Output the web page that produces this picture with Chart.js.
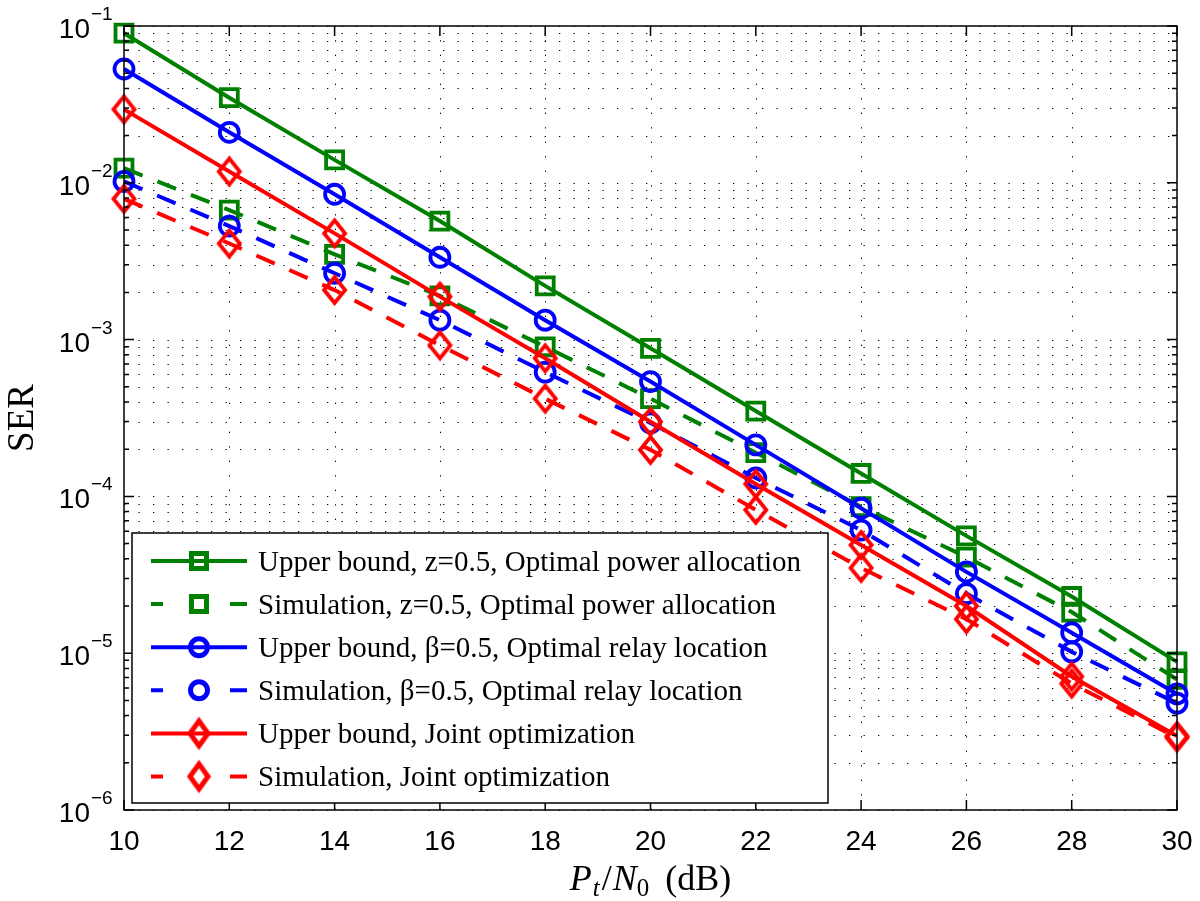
<!DOCTYPE html>
<html>
<head>
<meta charset="utf-8">
<script src="https://cdn.jsdelivr.net/npm/chart.js@4.4.0/dist/chart.umd.min.js"></script>
<style>
  html, body { margin: 0; padding: 0; background: #fff; }
  #wrap { width: 1200px; height: 901px; position: relative; }
</style>
</head>
<body>
<div id="wrap"><canvas id="chart"></canvas></div>
<script>
// P_t/N_0 in dB
const snrDb = [10, 12, 14, 16, 18, 20, 22, 24, 26, 28, 30];

// SER values
const upperZ     = [0.090, 0.0349, 0.0140, 0.0057, 0.0022, 8.8e-4, 3.5e-4, 1.4e-4, 5.6e-5, 2.3e-5, 8.8e-6];
const simZ       = [0.0124, 0.0067, 0.0035, 0.0019, 9.0e-4, 4.2e-4, 1.9e-4, 8.6e-5, 4.1e-5, 1.83e-5, 6.8e-6];
const upperBeta  = [0.0532, 0.021, 0.00845, 0.00335, 0.00133, 5.4e-4, 2.13e-4, 8.4e-5, 3.3e-5, 1.35e-5, 5.5e-6];
const simBeta    = [0.0102, 0.0053, 0.00265, 0.00133, 6.2e-4, 2.94e-4, 1.31e-4, 6.1e-5, 2.4e-5, 1.02e-5, 4.8e-6];
const upperJoint = [0.0294, 0.0118, 0.00476, 0.00188, 7.6e-4, 2.99e-4, 1.2e-4, 4.9e-5, 2.0e-5, 7.1e-6, 2.96e-6];
const simJoint   = [0.0079, 0.0041, 0.00207, 9.2e-4, 4.2e-4, 1.98e-4, 8.2e-5, 3.5e-5, 1.65e-5, 6.4e-6, 2.9e-6];

const seriesLabels = [
    'Upper bound, z=0.5, Optimal power allocation',
    'Simulation, z=0.5, Optimal power allocation',
    'Upper bound, \u03b2=0.5, Optimal relay location',
    'Simulation, \u03b2=0.5, Optimal relay location',
    'Upper bound, Joint optimization',
    'Simulation, Joint optimization'
];

const xTicks = [10, 12, 14, 16, 18, 20, 22, 24, 26, 28, 30];
const yExponents = [-6, -5, -4, -3, -2, -1];

const GREEN = '#008000';
const BLUE = '#0000ff';
const RED = '#ff0000';
const DASH = [20, 16];

// MATLAB style diamond (taller than wide)
function diamondMarker(color, hw, hh, lw) {
    const c = document.createElement('canvas');
    c.width = Math.ceil(2 * hw + 3 * lw);
    c.height = Math.ceil(2 * hh + 3 * lw);
    const g = c.getContext('2d');
    const cx = c.width / 2, cy = c.height / 2;
    g.strokeStyle = color;
    g.lineWidth = lw;
    g.beginPath();
    g.moveTo(cx, cy - hh);
    g.lineTo(cx + hw, cy);
    g.lineTo(cx, cy + hh);
    g.lineTo(cx - hw, cy);
    g.closePath();
    g.stroke();
    return c;
}

function series(label, data, color, style, radius, dashed) {
    return {
        label: label,
        data: data,
        borderColor: color,
        borderWidth: 4,
        borderDash: dashed ? DASH : [],
        pointStyle: style,
        pointRadius: radius,
        pointBorderWidth: 3.8,
        pointBorderColor: color,
        pointBackgroundColor: 'rgba(0,0,0,0)',
        fill: false,
        tension: 0,
        clip: false
    };
}

const redDiamond = diamondMarker(RED, 10.5, 13, 3.8);
const legendDiamond = diamondMarker(RED, 9, 12.5, 5);
const datasets = [
    series(seriesLabels[0], upperZ, GREEN, 'rect', 12, false),
    series(seriesLabels[1], simZ, GREEN, 'rect', 12, true),
    series(seriesLabels[2], upperBeta, BLUE, 'circle', 9.5, false),
    series(seriesLabels[3], simBeta, BLUE, 'circle', 9.5, true),
    series(seriesLabels[4], upperJoint, RED, redDiamond, 12, false),
    series(seriesLabels[5], simJoint, RED, redDiamond, 12, true)
];
// later series drawn on top, like MATLAB
datasets.forEach((d, i) => { d.order = datasets.length - 1 - i; });

// grid positions on the log axis: 1..9 x 10^k
const yGrid = [];
yExponents.forEach(e => {
    if (e === -1) { yGrid.push(Math.pow(10, e)); return; }
    for (let m = 1; m <= 9; m++) yGrid.push(m * Math.pow(10, e));
});

// legend marker: a bit smaller and heavier than in the plot
function drawLegendMarker(ctx, ds, x, y) {
    const st = ds.pointStyle;
    if (typeof st === 'object') {
        ctx.drawImage(legendDiamond, x - legendDiamond.width / 2, y - legendDiamond.height / 2);
        return;
    }
    ctx.save();
    ctx.strokeStyle = ds.borderColor;
    ctx.lineWidth = 5;
    ctx.setLineDash([]);
    ctx.beginPath();
    if (st === 'rect') {
        ctx.rect(x - 7.5, y - 7.5, 15, 15);
    } else {
        ctx.arc(x, y, 8.5, 0, Math.PI * 2);
    }
    ctx.stroke();
    ctx.restore();
}

const matlabAxes = {
    id: 'matlabAxes',
    beforeDatasetsDraw(chart) {
        const ctx = chart.ctx;
        const a = chart.chartArea;
        const xs = chart.scales.x, ys = chart.scales.y;
        ctx.save();
        ctx.strokeStyle = '#000';
        ctx.lineWidth = 1;
        ctx.setLineDash([1.3, 13.2]);
        yGrid.forEach(v => {
            const py = Math.round(ys.getPixelForValue(v)) + 0.5;
            ctx.beginPath();
            ctx.moveTo(a.left, py);
            ctx.lineTo(a.right, py);
            ctx.stroke();
        });
        xTicks.slice(1, -1).forEach(v => {
            const px = Math.round(xs.getPixelForValue(v)) + 0.5;
            ctx.beginPath();
            ctx.moveTo(px, a.bottom);
            ctx.lineTo(px, a.top);
            ctx.stroke();
        });
        ctx.restore();
    },
    afterDatasetsDraw(chart) {
        const ctx = chart.ctx;
        const a = chart.chartArea;
        const xs = chart.scales.x, ys = chart.scales.y;
        ctx.save();
        ctx.strokeStyle = '#000';
        ctx.fillStyle = '#000';
        ctx.lineWidth = 1.5;
        ctx.setLineDash([]);

        // ticks (inside) on all four sides
        ctx.beginPath();
        xTicks.forEach(v => {
            const px = xs.getPixelForValue(v);
            ctx.moveTo(px, a.bottom); ctx.lineTo(px, a.bottom - 10);
            ctx.moveTo(px, a.top); ctx.lineTo(px, a.top + 10);
        });
        yGrid.forEach(v => {
            const py = ys.getPixelForValue(v);
            const major = Math.abs(Math.log10(v) - Math.round(Math.log10(v))) < 1e-9;
            const len = major ? 10 : 5;
            ctx.moveTo(a.left, py); ctx.lineTo(a.left + len, py);
            ctx.moveTo(a.right, py); ctx.lineTo(a.right - len, py);
        });
        ctx.stroke();
        ctx.strokeRect(a.left, a.top, a.right - a.left, a.bottom - a.top);

        // legend box
        const lx = a.left + 8, ly = a.bottom - 277, lw = 696, lh = 270;
        ctx.fillStyle = '#fff';
        ctx.fillRect(lx, ly, lw, lh);
        ctx.strokeRect(lx, ly, lw, lh);
        datasets.forEach((ds, i) => {
            const ry = ly + 28 + i * 43.1;
            const x0 = lx + 19, x1 = lx + 115, xm = lx + 67;
            ctx.strokeStyle = ds.borderColor;
            ctx.lineWidth = 4;
            ctx.beginPath();
            if (ds.borderDash.length) {
                ctx.moveTo(x0, ry); ctx.lineTo(x0 + 12, ry);
                ctx.moveTo(x1 - 17, ry); ctx.lineTo(x1, ry);
            } else {
                ctx.moveTo(x0, ry); ctx.lineTo(x1, ry);
            }
            ctx.stroke();
            drawLegendMarker(ctx, ds, xm, ry);
            ctx.fillStyle = '#000';
            ctx.font = '29px "Liberation Serif"';
            ctx.textAlign = 'left';
            ctx.textBaseline = 'alphabetic';
            ctx.fillText(ds.label, lx + 126, ry + 9.5);
        });
        ctx.restore();
    },
    afterDraw(chart) {
        const ctx = chart.ctx;
        const a = chart.chartArea;
        const xs = chart.scales.x, ys = chart.scales.y;
        ctx.save();
        ctx.fillStyle = '#000';
        ctx.textBaseline = 'alphabetic';

        // y tick labels 10^k
        yExponents.forEach(e => {
            const py = ys.getPixelForValue(Math.pow(10, e));
            ctx.font = '28px "Liberation Sans"';
            ctx.textAlign = 'right';
            ctx.fillText('10', a.left - 34, py + 12);
            ctx.font = '19px "Liberation Sans"';
            ctx.textAlign = 'left';
            ctx.fillText('\u2212' + Math.abs(e), a.left - 33, py - 6);
        });

        // x tick labels
        ctx.font = '28px "Liberation Sans"';
        ctx.textAlign = 'center';
        xTicks.forEach(v => {
            ctx.fillText(String(v), xs.getPixelForValue(v), a.bottom + 40);
        });

        // x title: P_t/N_0 (dB)
        const parts = [
            { t: 'P', f: 'italic 36px "Liberation Serif"', dy: 0, pad: 1 },
            { t: 't', f: 'italic 25px "Liberation Serif"', dy: 6, pad: 2 },
            { t: '/', f: '36px "Liberation Serif"', dy: 0, pad: 1 },
            { t: 'N', f: 'italic 36px "Liberation Serif"', dy: 0, pad: 0 },
            { t: '0', f: '25px "Liberation Serif"', dy: 6, pad: 16 },
            { t: '(dB)', f: '36px "Liberation Serif"', dy: 0, pad: 0 }
        ];
        let total = 0;
        parts.forEach(p => { ctx.font = p.f; p.w = ctx.measureText(p.t).width + p.pad; total += p.w; });
        let cx = (a.left + a.right) / 2 - total / 2;
        ctx.textAlign = 'left';
        parts.forEach(p => {
            ctx.font = p.f;
            ctx.fillText(p.t, cx, a.bottom + 80 + p.dy);
            cx += p.w;
        });

        // y title
        ctx.translate(33, (a.top + a.bottom) / 2);
        ctx.rotate(-Math.PI / 2);
        ctx.font = '37px "Liberation Serif"';
        ctx.textAlign = 'center';
        ctx.fillText('SER', 0, 0);
        ctx.restore();
    }
};

const ctx = document.getElementById('chart').getContext('2d');
new Chart(ctx, {
    type: 'line',
    data: {
        labels: snrDb,
        datasets: datasets
    },
    options: {
        responsive: true,
        maintainAspectRatio: false,
        animation: false,
        devicePixelRatio: 1,
        layout: {
            padding: { left: 0, top: 26, right: 23, bottom: 0 }
        },
        plugins: {
            legend: { display: false },
            tooltip: { enabled: false }
        },
        scales: {
            x: {
                type: 'linear',
                min: 10,
                max: 30,
                grid: { display: false },
                border: { display: false },
                ticks: { display: false, stepSize: 2 },
                afterFit: function (s) { s.height = 91; }
            },
            y: {
                type: 'logarithmic',
                min: 1e-6,
                max: 1e-1,
                grid: { display: false },
                border: { display: false },
                ticks: { display: false },
                afterFit: function (s) { s.width = 124; }
            }
        }
    },
    plugins: [matlabAxes]
});
</script>
</body>
</html>
